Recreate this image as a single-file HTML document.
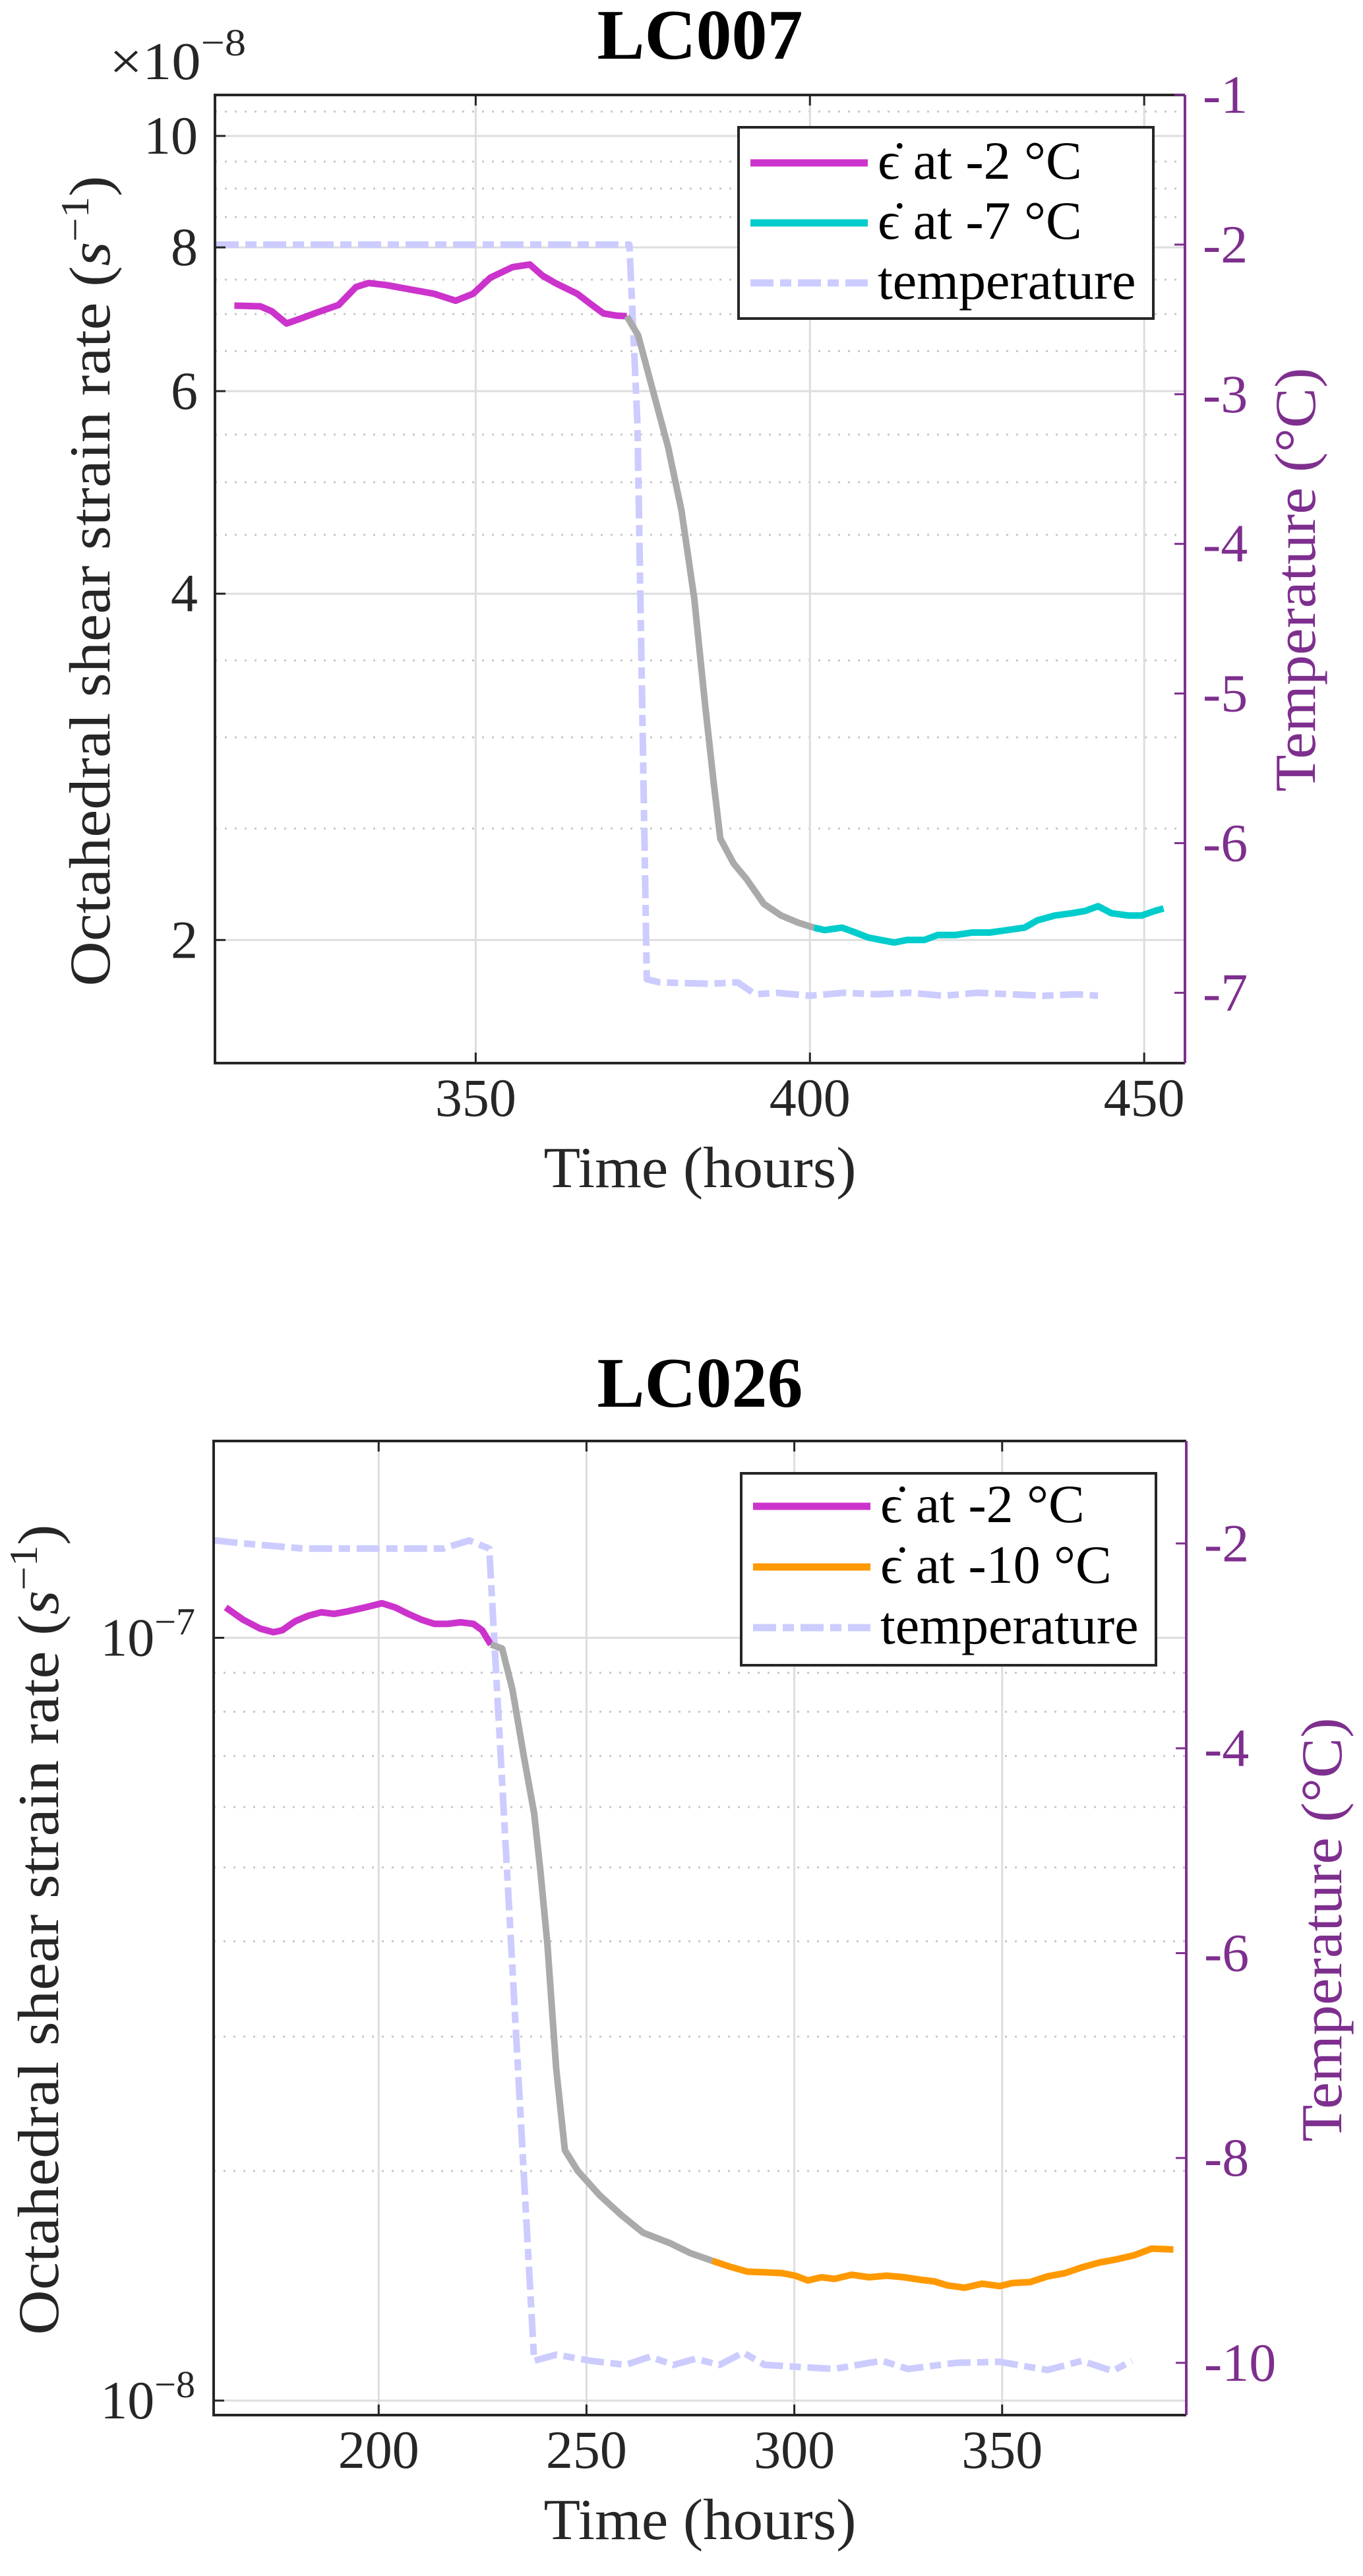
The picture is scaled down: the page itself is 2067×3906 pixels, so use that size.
<!DOCTYPE html>
<html><head><meta charset="utf-8">
<style>
html,body{margin:0;padding:0;background:#fff;}
svg{display:block;font-family:"Liberation Serif",serif;}
text{font-family:"Liberation Serif",serif;}
</style></head>
<body>
<svg id="fig" width="2067" height="3906" viewBox="0 0 2067 3906" xmlns="http://www.w3.org/2000/svg" font-family="Liberation Serif, serif"></svg>
<script>
// ---------- Chart 1 (LC007) data ----------
const c1XTicks = [350, 400, 450];
const c1YTicks = [2, 4, 6, 8, 10];
const c1TTicks = [-1, -2, -3, -4, -5, -6, -7];
const c1MagT = [313.9,317.8,319.5,321.7,323.6,326.2,329.5,332.1,334.0,336.6,339.9,343.8,347.0,349.6,352.2,355.5,358.1,360.0,361.9,365.2,367.1,369.1,371.0,372.6];
const c1MagV = [7.12,7.11,7.04,6.87,6.93,7.02,7.13,7.39,7.45,7.42,7.36,7.29,7.19,7.29,7.53,7.69,7.73,7.56,7.45,7.29,7.15,7.01,6.98,6.97];
const c1GrayT = [372.6,374.3,376.2,378.8,380.8,382.7,384.3,385.6,386.6,388.6,390.5,393.1,395.7,398.3,400.6];
const c1GrayV = [6.97,6.71,6.10,5.36,4.72,3.96,3.21,2.74,2.45,2.33,2.26,2.15,2.10,2.07,2.05];
const c1CyanT = [400.6,402.2,404.8,406.8,408.7,410.6,412.6,414.5,417.1,419.1,421.7,424.3,426.9,429.5,432.1,434.0,436.6,439.2,441.2,443.1,445.1,447.7,449.6,451.6,452.9];
const c1CyanV = [2.05,2.04,2.05,2.03,2.01,2.00,1.99,2.00,2.00,2.02,2.02,2.03,2.03,2.04,2.05,2.08,2.10,2.11,2.12,2.14,2.11,2.10,2.10,2.12,2.13];
const c1TempT = [311.1,320,330,340,350,360,370,373,374.2,375.6,377.5,385,389.2,391.8,395,400,405,410,415,420,425,430,435,440,443.1];
const c1TempV = [-2,-2,-2,-2,-2,-2,-2,-2,-3.2,-6.91,-6.93,-6.94,-6.93,-7.01,-7.0,-7.02,-7.0,-7.01,-7.0,-7.02,-7.0,-7.01,-7.02,-7.01,-7.02];

// ---------- Chart 2 (LC026) data (strain in units of 1e-8) ----------
const c2XTicks = [200, 250, 300, 350];
const c2YTicks = [1, 10];
const c2YTickExp = ["−8", "−7"];
const c2TTicks = [-2, -4, -6, -8, -10];
const c2MagT = [163.2,167.4,171.5,174.7,176.8,179.9,183.1,186.2,189.3,192.5,196.7,200.8,204.0,207.1,210.3,213.4,216.5,219.7,222.8,224.9,227.0];
const c2MagV = [10.96,10.56,10.28,10.17,10.23,10.51,10.69,10.80,10.75,10.83,10.96,11.10,10.96,10.75,10.56,10.43,10.43,10.48,10.43,10.23,9.80];
const c2GrayT = [227.0,229.7,232.2,234.9,237.4,238.9,240.6,242.7,244.8,247.9,253.1,258.4,263.6,269.9,275.1,280.3];
const c2GrayV = [9.80,9.68,8.55,7.01,5.89,4.96,3.96,2.73,2.13,2.00,1.86,1.75,1.66,1.61,1.56,1.525];
const c2OrT = [280.3,284.5,288.7,292.9,297.1,300.2,303.3,306.5,309.6,313.8,318.0,322.2,326.4,330.5,333.7,336.8,341.0,345.2,349.4,352.5,356.7,360.9,365.1,369.2,373.4,377.6,381.8,386.0,391.2];
const c2OrV = [1.525,1.498,1.476,1.473,1.469,1.458,1.437,1.451,1.444,1.462,1.451,1.458,1.451,1.440,1.433,1.416,1.406,1.423,1.413,1.426,1.430,1.455,1.469,1.495,1.517,1.532,1.551,1.582,1.578];
const c2TempT = [160.5,167.4,182.0,196.7,215.5,221.8,226.6,237.4,242.7,251.0,259.4,265.3,270.9,276.2,282.0,287.7,292.9,301.3,309.6,318.0,321.1,327.4,338.9,349.4,360.9,369.2,376.6,381.2];
const c2TempV = [-1.97,-2.0,-2.05,-2.05,-2.05,-1.97,-2.05,-9.98,-9.92,-9.98,-10.02,-9.94,-10.02,-9.96,-10.02,-9.9,-10.02,-10.04,-10.06,-10.0,-9.98,-10.06,-10.0,-9.99,-10.07,-9.98,-10.08,-9.98];

const NS = "http://www.w3.org/2000/svg";
const fig = document.getElementById("fig");
function mk(parent, tag, attrs, text) {
  const e = document.createElementNS(NS, tag);
  for (const k in attrs) e.setAttribute(k, attrs[k]);
  if (tag === "text") e.setAttribute("font-family", "Liberation Serif, serif");
  if (text !== undefined) e.textContent = text;
  parent.appendChild(e);
  return e;
}
const PURPLE = "#7E2F8E";
const TICKFS = 82;

function chart(cfg) {
  const g = mk(fig, "g", {});
  
  
  const L = cfg.L, R = cfg.R, T = cfg.T, B = cfg.B;
  const sx = t => L + (t - cfg.x0) / (cfg.x1 - cfg.x0) * (R - L);
  const sy = v => B - (Math.log10(v) - cfg.ly0) / (cfg.ly1 - cfg.ly0) * (B - T);
  const st = v => B - (v - cfg.t0) / (cfg.t1 - cfg.t0) * (B - T);

  cfg.minor.forEach(v => {
    const y = sy(v);
    const ln = mk(g, "line", {x1: L, x2: R, y1: y, y2: y, stroke: "#c8c8c8", "stroke-width": 3, "stroke-dasharray": "3 12"});
    
    
  });
  cfg.yTicks.forEach(v => {
    const y = sy(v);
    const ln = mk(g, "line", {x1: L, x2: R, y1: y, y2: y, stroke: "#dddddd", "stroke-width": 3});
    
    
  });
  cfg.xTicks.forEach(v => {
    const x = sx(v);
    const ln = mk(g, "line", {x1: x, x2: x, y1: T, y2: B, stroke: "#dddddd", "stroke-width": 3});
    
    
  });

  const tp = mk(g, "path", {d: cfg.tempT.map((t, i) => (i ? "L" : "M") + sx(t).toFixed(1) + "," + st(cfg.tempV[i]).toFixed(1)).join(""),
    fill: "none", stroke: "#ccccff", "stroke-width": 10, "stroke-dasharray": "35 10 17 10", "stroke-linejoin": "round"});
  
  

  cfg.series.forEach(s => {
    const p = mk(g, "path", {d: s.t.map((t, i) => (i ? "L" : "M") + sx(t).toFixed(1) + "," + sy(s.v[i]).toFixed(1)).join(""),
      fill: "none", stroke: s.color, "stroke-width": 10, "stroke-linejoin": "round", "stroke-linecap": "butt"});
    
    
  });

  const ax = mk(g, "path", {d: `M${R},${T}L${L},${T}L${L},${B}L${R},${B}`, fill: "none", stroke: "#262626", "stroke-width": 4});
  
  
  const ra = mk(g, "line", {x1: R, x2: R, y1: T, y2: B, stroke: PURPLE, "stroke-width": 4});
  
  

  cfg.xTicks.forEach(v => {
    const x = sx(v);
    const tk = mk(g, "path", {d: `M${x},${B}L${x},${B-16}M${x},${T}L${x},${T+16}`, stroke: "#262626", "stroke-width": 3});
    
    
    const lb = mk(g, "text", {x: x, y: B + 80, "font-size": TICKFS, "text-anchor": "middle", fill: "#262626"}, String(v));
    
    
  });
  cfg.yTicks.forEach((v, i) => {
    const y = sy(v);
    const tk = mk(g, "line", {x1: L, x2: L + 16, y1: y, y2: y, stroke: "#262626", "stroke-width": 3});
    
    
    const lb = mk(g, "text", {x: cfg.yLabX, y: y + 27, "font-size": TICKFS, "text-anchor": "end", fill: "#262626"});
    
    
    if (cfg.yExp) {
      mk(lb, "tspan", {}, "10");
      mk(lb, "tspan", {dy: -32, "font-size": 58}, cfg.yExp[i]);
    } else {
      lb.textContent = String(v);
    }
  });
  cfg.tTicks.forEach(v => {
    const y = st(v);
    const tk = mk(g, "line", {x1: R - 16, x2: R, y1: y, y2: y, stroke: PURPLE, "stroke-width": 3});
    
    
    const lb = mk(g, "text", {x: R + 27, y: y + 27, "font-size": TICKFS, fill: PURPLE}, "-" + Math.abs(v));
    
    
  });

  const ti = mk(g, "text", {x: (L + R) / 2, y: cfg.titleY, "font-size": 108, "font-weight": "bold", "text-anchor": "middle", fill: "#000"}, cfg.title);
  
  
  const xl = mk(g, "text", {x: (L + R) / 2, y: cfg.xLabY, "font-size": 88, "text-anchor": "middle", fill: "#262626", textLength: 474, lengthAdjust: "spacingAndGlyphs"}, "Time (hours)");
  
  
  const yl = mk(g, "text", {x: 0, y: 0, "font-size": 88, "text-anchor": "middle", fill: "#262626", transform: `translate(${cfg.yTitleX},${cfg.yTitleY}) rotate(-90)`, textLength: 1229, lengthAdjust: "spacingAndGlyphs"});
  
  
  mk(yl, "tspan", {}, "Octahedral shear strain rate (");
  mk(yl, "tspan", {"font-style": "italic"}, "s");
  mk(yl, "tspan", {dy: -32, "font-size": 60}, "−1");
  mk(yl, "tspan", {dy: 32}, ")");
  const rl = mk(g, "text", {x: 0, y: 0, "font-size": 88, "text-anchor": "middle", fill: PURPLE, transform: `translate(${cfg.tTitleX},${cfg.tTitleY}) rotate(-90)`, textLength: 643, lengthAdjust: "spacingAndGlyphs"}, "Temperature (°C)");
  
  

  const lg = mk(g, "g", {});
  
  
  const bx = mk(lg, "rect", {x: cfg.lg.x, y: cfg.lg.y, width: cfg.lg.w, height: cfg.lg.h, fill: "#fff", stroke: "#262626", "stroke-width": 4});
  
  
  cfg.lg.items.forEach((it, i) => {
    const yy = cfg.lg.y + cfg.lg.first + i * cfg.lg.step;
    const ln = mk(lg, "line", {x1: cfg.lg.x + 18, x2: cfg.lg.x + 196, y1: yy, y2: yy, stroke: it.color, "stroke-width": 11, "stroke-dasharray": it.dash || "none"});
    
    
    const tx = mk(lg, "text", {x: cfg.lg.x + 211, y: yy + 24, "font-size": 82, fill: "#000"}, it.label);
    
    
  });

  if (cfg.mult) {
    const m = mk(g, "text", {x: 166, y: 120, "font-size": 80, fill: "#262626", textLength: 207, lengthAdjust: "spacingAndGlyphs"});
    
    
    mk(m, "tspan", {}, "×10");
    mk(m, "tspan", {dy: -36, "font-size": 58}, "−8");
  }
}

const c1Minor = [];
for (let v = 2.5; v <= 10.5; v += 0.5) { if (v % 2 !== 0) c1Minor.push(v); }

chart({
  name: "chart-lc007", title: "LC007", titleY: 89,
  L: 326, R: 1797, T: 144, B: 1612,
  x0: 311.0, x1: 456.1, ly0: 0.194, ly1: 1.0356, t0: -7.47, t1: -1,
  xTicks: c1XTicks, yTicks: c1YTicks, tTicks: c1TTicks, minor: c1Minor,
  yLabX: 300, xLabY: 1800, yTitleX: 166, yTitleY: 881, tTitleX: 1994, tTitleY: 879,
  mult: true,
  tempT: c1TempT, tempV: c1TempV,
  series: [
    {name: "strain-rate-minus2", t: c1MagT, v: c1MagV, color: "#cc33cc"},
    {name: "strain-rate-transition", t: c1GrayT, v: c1GrayV, color: "#aaaaaa"},
    {name: "strain-rate-minus7", t: c1CyanT, v: c1CyanV, color: "#00cccc"}
  ],
  lg: {x: 1120, y: 193, w: 629, h: 290, first: 54, step: 91,
    items: [
      {label: "ϵ̇ at -2 °C", color: "#cc33cc"},
      {label: "ϵ̇ at -7 °C", color: "#00cccc"},
      {label: "temperature", color: "#ccccff", dash: "35 10 17 10"}
    ]}
});

chart({
  name: "chart-lc026", title: "LC026", titleY: 2133,
  L: 324, R: 1799, T: 2185, B: 3662,
  x0: 160.3, x1: 394.3, ly0: -0.019, ly1: 1.258, t0: -10.51, t1: -1.0,
  xTicks: c2XTicks, yTicks: c2YTicks, yExp: c2YTickExp, tTicks: c2TTicks, minor: [2,3,4,5,6,7,8,9],
  yLabX: 296, xLabY: 3850, yTitleX: 88, yTitleY: 2926, tTitleX: 2034, tTitleY: 2926,
  mult: false,
  tempT: c2TempT, tempV: c2TempV,
  series: [
    {name: "strain-rate-minus2", t: c2MagT, v: c2MagV, color: "#cc33cc"},
    {name: "strain-rate-transition", t: c2GrayT, v: c2GrayV, color: "#aaaaaa"},
    {name: "strain-rate-minus10", t: c2OrT, v: c2OrV, color: "#ff9900"}
  ],
  lg: {x: 1124, y: 2234, w: 629, h: 291, first: 50, step: 92,
    items: [
      {label: "ϵ̇ at -2 °C", color: "#cc33cc"},
      {label: "ϵ̇ at -10 °C", color: "#ff9900"},
      {label: "temperature", color: "#ccccff", dash: "35 10 17 10"}
    ]}
});
</script>
</body></html>
